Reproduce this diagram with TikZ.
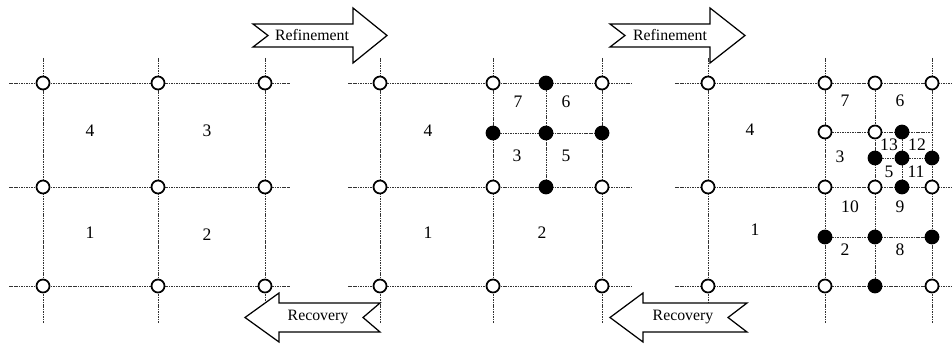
\documentclass[tikz,border=0pt]{standalone}
\usepackage{fontspec}
\setmainfont{Liberation Serif}
\tikzset{
  grid line/.style={dash pattern=on 0.9pt off 0.5pt, line width=0.5pt, black!80},
  open vertex/.style={circle, draw, line width=1pt, fill=white, inner sep=0pt, minimum size=0.26cm},
  hanging vertex/.style={circle, draw, line width=1pt, fill=black, inner sep=0pt, minimum size=0.26cm},
  cell label/.style={font=\fontsize{10}{12}\selectfont},
  flow arrow/.style={draw, line width=0.7pt, fill=white, line join=miter},
  arrow text/.style={font=\fontsize{9}{11}\selectfont}
}
\begin{document}
\begin{tikzpicture}[x=0.02cm, y=-0.02cm]
\useasboundingbox (0,0) rectangle (952,344);
\foreach \x in {43,158,265} \draw[grid line] (\x,58) -- (\x,323);
\foreach \y in {83,187,286} \draw[grid line] (9,\y) -- (290,\y);
\foreach \x in {380,493,602} \draw[grid line] (\x,58) -- (\x,323);
\foreach \y in {83,187,286} \draw[grid line] (348,\y) -- (632,\y);
\draw[grid line] (546,83) -- (546,187);
\draw[grid line] (493,133) -- (602,133);
\foreach \x in {708,825,932} \draw[grid line] (\x,58) -- (\x,323);
\foreach \y in {83,187,286} \draw[grid line] (675,\y) -- (952,\y);
\draw[grid line] (875,83) -- (875,286);
\draw[grid line] (825,132) -- (932,132);
\draw[grid line] (825,237) -- (932,237);
\draw[grid line] (902,132) -- (902,187);
\draw[grid line] (875,158) -- (932,158);

\foreach \x [count=\i] in {43,158,265}
  \foreach \y [count=\j] in {83,187,286}
    \node[open vertex] (a\i\j) at (\x,\y) {};
\foreach \x [count=\i] in {380,493,602}
  \foreach \y [count=\j] in {83,187,286}
    \node[open vertex] (b\i\j) at (\x,\y) {};
\foreach \p [count=\k] in {{546,83},{493,133},{546,133},{602,133},{546,187}}
  \node[hanging vertex] (bh\k) at (\p) {};
\foreach \x [count=\i] in {708,825,932}
  \foreach \y [count=\j] in {83,187,286}
    \node[open vertex] (c\i\j) at (\x,\y) {};
\foreach \p [count=\k] in {{875,83},{825,132},{875,132},{875,187}}
  \node[open vertex] (co\k) at (\p) {};
\foreach \p [count=\k] in {{902,132},{875,158},{902,158},{932,158},{902,187},{825,237},{875,237},{932,237},{875,286}}
  \node[hanging vertex] (ch\k) at (\p) {};

\foreach \t/\x/\y in {4/90/131,3/207/131,1/90/233,2/207/235}
  \node[cell label] (la\t) at (\x,\y) {\t};
\foreach \t/\x/\y in {4/428/131,1/428/233,2/542/233,7/518/102,6/566/102,3/517/156,5/566/156}
  \node[cell label] (lb\t) at (\x,\y) {\t};
\foreach \t/\x/\y in {4/750/130,1/755/230,7/845/101,6/900/101,3/840/157,13/889/145,12/917/145,5/889/172,11/916/172,10/850/207,9/900/207,2/845/250,8/900/250}
  \node[cell label, inner sep=0pt] (lc\t) at (\x,\y) {\t};

\draw[flow arrow] (253,24) -- (353,24) -- (353,8) -- (387,35.5) -- (353,63) -- (353,47) -- (253,47) -- (268,35.5) -- cycle;
\node[arrow text] (refine1) at (312,35.5) {Refinement};
\draw[flow arrow] (610,24) -- (710,24) -- (710,8) -- (745,35.5) -- (710,63) -- (710,47) -- (610,47) -- (625,35.5) -- cycle;
\node[arrow text] (refine2) at (670,35.5) {Refinement};
\draw[flow arrow] (245,317.5) -- (279,293) -- (279,303) -- (380,303) -- (363,317.5) -- (380,332) -- (279,332) -- (279,342) -- cycle;
\node[arrow text] (recover1) at (318,317.5) {Recovery};
\draw[flow arrow] (610,317.5) -- (643,293) -- (643,303) -- (747,303) -- (728,317.5) -- (747,332) -- (643,332) -- (643,342) -- cycle;
\node[arrow text] (recover2) at (683,317.5) {Recovery};
\end{tikzpicture}
\end{document}
